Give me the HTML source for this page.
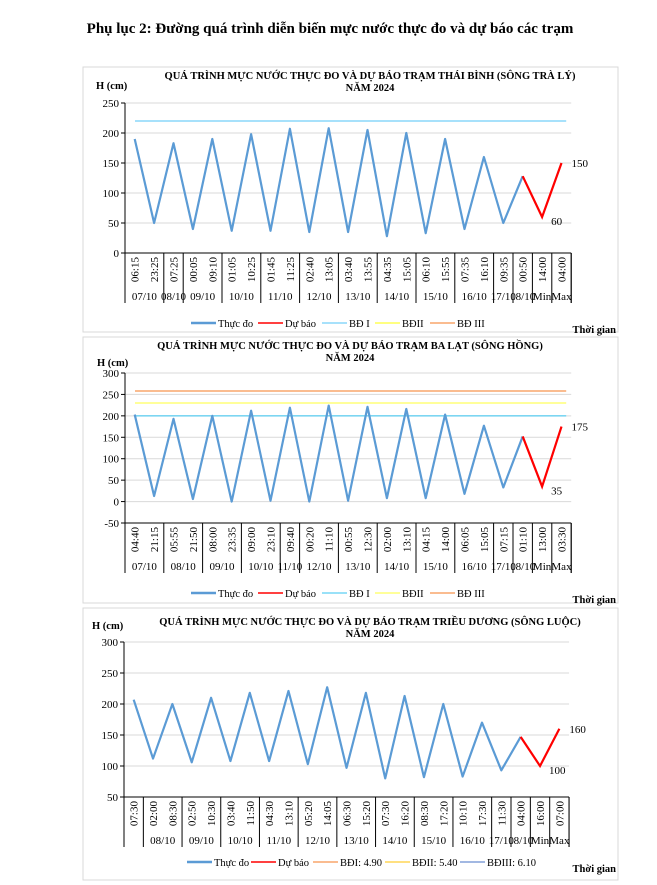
<!DOCTYPE html><html><head><meta charset="utf-8"><style>
body{margin:0;background:#fff;width:657px;height:885px;overflow:hidden;font-family:"Liberation Serif",serif}
svg{position:absolute;left:0;top:0}
</style></head><body>
<svg id="s" width="657" height="885" xmlns="http://www.w3.org/2000/svg" font-family="Liberation Serif, serif"></svg>
<script>
var o='';
o+='<text x="330" y="33" text-anchor="middle" font-size="15" font-weight="bold">Phụ lục 2: Đường quá trình diễn biến mực nước thực đo và dự báo các trạm</text>';
function chart(c){
 var L=c.ax,R=c.ax+23*c.sp;
 o+='<rect x="'+c.fx+'" y="'+c.fy+'" width="'+c.fw+'" height="'+c.fh+'" fill="#fff" stroke="#d9d9d9"/>';
 o+='<text x="'+c.tx+'" y="'+c.ty+'" text-anchor="middle" font-size="10.5" font-weight="bold">'+c.t1+'</text>';
 o+='<text x="'+c.tx+'" y="'+(c.ty+12)+'" text-anchor="middle" font-size="10.5" font-weight="bold">NĂM 2024</text>';
 o+='<text x="'+c.hx+'" y="'+c.hy+'" font-size="10.5" font-weight="bold">H (cm)</text>';
 function Y(v){return c.y0-(v-c.min)*c.k}
 for(var v=c.min;v<=c.max;v+=50){var y=Y(v);
  if(v>c.min)o+='<line x1="'+L+'" x2="'+R+'" y1="'+y+'" y2="'+y+'" stroke="#d9d9d9"/>';
  o+='<line x1="'+(L-4)+'" x2="'+L+'" y1="'+y+'" y2="'+y+'" stroke="#000"/>';
  o+='<text x="'+(L-6)+'" y="'+(y+4)+'" text-anchor="end" font-size="11">'+v+'</text>';}
 c.lines.forEach(function(l){var y=Y(l[0]);o+='<line x1="'+(L+10)+'" x2="'+(R-5)+'" y1="'+y+'" y2="'+y+'" stroke="'+l[1]+'" stroke-width="1"/>';});
 var yb=Y(c.min);
 o+='<line x1="'+L+'" x2="'+L+'" y1="'+Y(c.max)+'" y2="'+c.bot+'" stroke="#000"/>';
 o+='<line x1="'+L+'" x2="'+R+'" y1="'+yb+'" y2="'+yb+'" stroke="#000"/>';
 o+='<line x1="'+R+'" x2="'+R+'" y1="'+yb+'" y2="'+c.bot+'" stroke="#000"/>';
 for(var i=0;i<23;i++){var x=L+(i+0.5)*c.sp;
  o+='<text transform="translate('+(x+4)+','+(yb+4)+') rotate(-90)" text-anchor="end" font-size="11">'+c.times[i]+'</text>';}
 c.groups.forEach(function(g){var x1=L+g[0]*c.sp,x2=L+(g[1]+1)*c.sp;
  o+='<line x1="'+x2+'" x2="'+x2+'" y1="'+yb+'" y2="'+c.bot+'" stroke="#000"/>';
  if(g[2])o+='<text x="'+((x1+x2)/2)+'" y="'+c.dy+'" text-anchor="middle" font-size="11">'+g[2]+'</text>';});
 var p=c.d.map(function(v,i){return (L+(i+0.5)*c.sp)+','+Y(v)}).join(' ');
 o+='<polyline points="'+p+'" fill="none" stroke="#5b9bd5" stroke-width="2.2" stroke-linejoin="round"/>';
 var p2=c.f.map(function(v,i){return (L+(i+20.5)*c.sp)+','+Y(v)}).join(' ');
 o+='<polyline points="'+p2+'" fill="none" stroke="#ff0000" stroke-width="2.2"/>';
 o+='<text x="'+(L+21.5*c.sp+9)+'" y="'+(Y(c.f[1])+8)+'" font-size="11">'+c.f[1]+'</text>';
 o+='<text x="'+(L+22.5*c.sp+10)+'" y="'+(Y(c.f[2])+4)+'" font-size="11">'+c.f[2]+'</text>';
 var lx=c.lx;
 c.leg.forEach(function(l){o+='<line x1="'+lx+'" x2="'+(lx+25)+'" y1="'+c.ly+'" y2="'+c.ly+'" stroke="'+l[1]+'" stroke-width="'+l[2]+'"/>';
  o+='<text x="'+(lx+27)+'" y="'+(c.ly+4)+'" font-size="10.5">'+l[0]+'</text>';lx+=l[3];});
 o+='<text x="'+(c.fx+c.fw-2)+'" y="'+(c.ly+10)+'" text-anchor="end" font-size="10.5" font-weight="bold">Thời gian</text>';
}
chart({fx:83,fy:67,fw:535,fh:265,tx:370,ty:79,hx:96,hy:89,t1:'QUÁ TRÌNH MỰC NƯỚC THỰC ĐO VÀ DỰ BÁO TRẠM THÁI BÌNH (SÔNG TRÀ LÝ)',
 ax:125,sp:19.4,y0:253,min:0,max:250,k:0.6,bot:303,dy:300,lx:191,ly:323,
 lines:[[220,'#4fc3f7']],
 times:'06:15 23:25 07:25 00:05 09:10 01:05 10:25 01:45 11:25 02:40 13:05 03:40 13:55 04:35 15:05 06:10 15:55 07:35 16:10 09:35 00:50 14:00 04:00'.split(' '),
 groups:[[0,1,'07/10'],[2,2,'08/10'],[3,4,'09/10'],[5,6,'10/10'],[7,8,'11/10'],[9,10,'12/10'],[11,12,'13/10'],[13,14,'14/10'],[15,16,'15/10'],[17,18,'16/10'],[19,19,'17/10'],[20,20,'18/10'],[21,21,'Min'],[22,22,'Max']],
 d:[190,50,183,40,190,37,198,37,207,35,208,35,205,28,200,33,190,40,160,50,128],f:[128,60,150],
 leg:[['Thực đo','#5b9bd5',2.5,67],['Dự báo','#ff0000',1.5,64],['BĐ I','#4fc3f7',1,53],['BĐII','#ffff00',1,55],['BĐ III','#f47a20',1,60]]});
chart({fx:83,fy:337,fw:535,fh:266,tx:350,ty:349,hx:97,hy:366,t1:'QUÁ TRÌNH MỰC NƯỚC THỰC ĐO VÀ DỰ BÁO TRẠM BA LẠT (SÔNG HỒNG)',
 ax:125,sp:19.4,y0:523,min:-50,max:300,k:0.4286,bot:573,dy:570,lx:191,ly:593,
 lines:[[200,'#33c3f0'],[230,'#ffff33'],[258,'#f47a20']],
 times:'04:40 21:15 05:55 21:50 08:00 23:35 09:00 23:10 09:40 00:20 11:10 00:55 12:30 02:00 13:10 04:15 14:00 06:05 15:05 07:15 01:10 13:00 03:30'.split(' '),
 groups:[[0,1,'07/10'],[2,3,'08/10'],[4,5,'09/10'],[6,7,'10/10'],[8,8,'11/10'],[9,10,'12/10'],[11,12,'13/10'],[13,14,'14/10'],[15,16,'15/10'],[17,18,'16/10'],[19,19,'17/10'],[20,20,'18/10'],[21,21,'Min'],[22,22,'Max']],
 d:[203,13,193,6,200,0,212,2,219,0,224,2,221,8,216,8,203,18,177,33,152],f:[152,35,175],
 leg:[['Thực đo','#5b9bd5',2.5,67],['Dự báo','#ff0000',1.5,64],['BĐ I','#33c3f0',1,53],['BĐII','#ffff33',1,55],['BĐ III','#f47a20',1,60]]});
chart({fx:83,fy:608,fw:535,fh:272,tx:370,ty:625,hx:92,hy:629,t1:'QUÁ TRÌNH MỰC  NƯỚC THỰC ĐO VÀ DỰ BÁO TRẠM TRIỀU DƯƠNG (SÔNG LUỘC)',
 ax:124,sp:19.35,y0:797,min:50,max:300,k:0.62,bot:847,dy:844,lx:187,ly:862,
 lines:[],
 times:'07:30 02:00 08:30 02:50 10:30 03:40 11:50 04:30 13:10 05:20 14:05 06:30 15:20 07:30 16:20 08:30 17:20 10:10 17:30 11:30 04:00 16:00 07:00'.split(' '),
 groups:[[0,0,''],[1,2,'08/10'],[3,4,'09/10'],[5,6,'10/10'],[7,8,'11/10'],[9,10,'12/10'],[11,12,'13/10'],[13,14,'14/10'],[15,16,'15/10'],[17,18,'16/10'],[19,19,'17/10'],[20,20,'18/10'],[21,21,'Min'],[22,22,'Max']],
 d:[207,112,200,106,210,108,218,108,221,103,227,97,218,80,213,82,200,83,170,93,147],f:[147,100,160],
 leg:[['Thực đo','#5b9bd5',2.5,64],['Dự báo','#ff0000',1.5,62],['BĐI: 4.90','#f47a20',1,72],['BĐII: 5.40','#ffc000',1,75],['BĐIII: 6.10','#4472c4',1,80]]});
document.getElementById('s').innerHTML=o;
</script>
</body></html>
